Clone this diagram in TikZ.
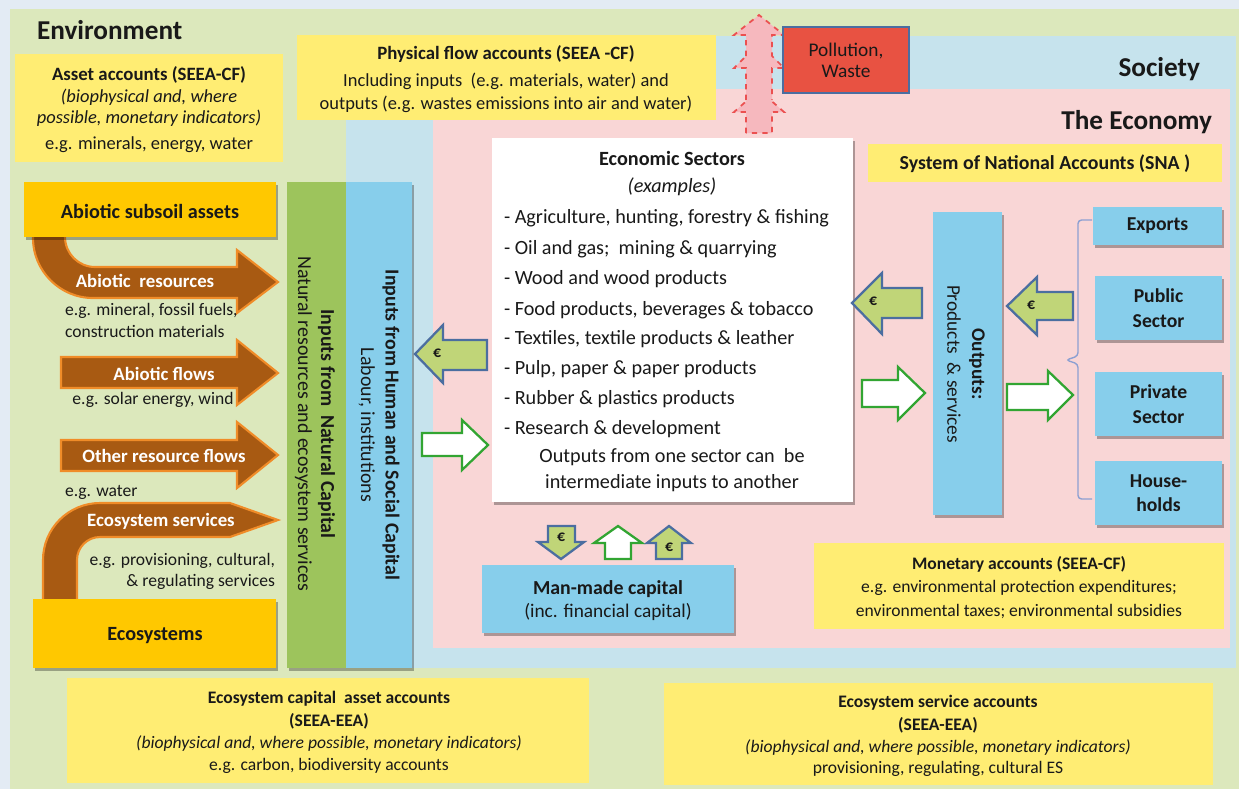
\documentclass[tikz,border=0pt]{standalone}
\usepackage{fontspec}
\setmainfont{Carlito}
\usetikzlibrary{fit,shadows}
\definecolor{bgout}{RGB}{227,235,244}
\definecolor{envgreen}{RGB}{220,232,188}
\definecolor{socblue}{RGB}{198,227,237}
\definecolor{ecopink}{RGB}{249,214,214}
\definecolor{ylw}{RGB}{255,237,115}
\definecolor{orng}{RGB}{255,200,0}
\definecolor{brn}{RGB}{168,90,18}
\definecolor{brnedge}{RGB}{240,140,40}
\definecolor{grbar}{RGB}{157,196,92}
\definecolor{skyb}{RGB}{135,206,235}
\definecolor{pollred}{RGB}{232,82,66}
\definecolor{edgeblue}{RGB}{75,110,160}
\definecolor{eurogr}{RGB}{192,213,120}
\definecolor{wgreen}{RGB}{50,165,50}
\definecolor{dashred}{RGB}{235,80,80}
\definecolor{pinkarr}{RGB}{246,184,190}
\definecolor{txt}{RGB}{25,25,25}
\definecolor{bracec}{RGB}{140,160,210}
\begin{document}
\begin{tikzpicture}[x=0.02cm,y=-0.02cm,
  every node/.style={text=txt, inner sep=0pt, outer sep=0pt},
  shad/.style={drop shadow={shadow xshift=1.2pt, shadow yshift=-1.5pt, fill=black, opacity=0.3}},
  ybox/.style={fill=ylw},
  obox/.style={fill=orng, shad},
  bbox/.style={fill=skyb, shad},
  ttl/.style={font=\fontsize{15.5}{18}\selectfont\bfseries},
  hd/.style={font=\fontsize{10.7}{13}\selectfont\bfseries},
  nm/.style={font=\fontsize{10.5}{13}\selectfont},
  itl/.style={font=\fontsize{10.5}{13}\selectfont\itshape},
  sm/.style={font=\fontsize{10}{12}\selectfont},
  smhd/.style={font=\fontsize{10}{12}\selectfont\bfseries},
  smit/.style={font=\fontsize{10}{12}\selectfont\itshape},
  sec/.style={font=\fontsize{11.5}{14}\selectfont},
  secb/.style={font=\fontsize{11.5}{14}\selectfont\bfseries},
  seci/.style={font=\fontsize{11.5}{14}\selectfont\itshape},
  lab/.style={font=\fontsize{10.7}{13}\selectfont\bfseries, text=white},
  desc/.style={font=\fontsize{10}{12}\selectfont},
  euro/.style={font=\fontsize{9}{10}\selectfont\bfseries},
  brownarr/.style={fill=brn, draw=brnedge, line width=1.2pt, line join=miter},
  euroarr/.style={fill=eurogr, draw=edgeblue, line width=1.3pt, line join=miter},
  whitearr/.style={fill=white, draw=wgreen, line width=1.3pt, line join=miter},
  pinkdash/.style={fill=pinkarr, draw=dashred, dashed, line width=1pt, line join=miter}
]
\useasboundingbox (0,0) rectangle (1239,789);
% regions
\node[fill=bgout, fit={(0,0) (1239,789)}] (bg) {};
\node[fill=envgreen, fit={(10,9) (1239,789)}] (env) {};
\node[fill=socblue, fit={(346,36) (1236,668)}] (soc) {};
\node[fill=ecopink, fit={(433,89) (1230,648)}] (eco) {};
% titles
\node[ttl, anchor=mid west] (envt) at (37,35) {Environment};
\node[ttl, anchor=mid east] (soct) at (1200,72) {Society};
\node[ttl, anchor=mid east] (ecot) at (1212,125) {The Economy};
% yellow boxes
\node[ybox, fit={(15,54) (283,162)}] (assetbox) {};
\node[ybox, fit={(297,35) (716,120)}] (physbox) {};
\node[ybox, fit={(868,144) (1222,182)}] (snabox) {};
\node[ybox, fit={(814,543) (1224,629)}] (monbox) {};
\node[ybox, fit={(67,678) (589,783)}] (ecapbox) {};
\node[ybox, fit={(664,683) (1213,785)}] (esvcbox) {};
% pollution arrows (stacked, dashed)
\path[pinkdash] (746,133) -- (746,112) -- (734,112) -- (759,90) -- (784,112) -- (772,112) -- (772,133) -- cycle;
\path[pinkdash] (746,100) -- (746,68) -- (734,68) -- (759,43) -- (784,68) -- (772,68) -- (772,100);
\path[pinkdash] (746,56) -- (746,35) -- (734,35) -- (759,15) -- (784,35) -- (772,35) -- (772,56);
\node[fill=pollred, draw=edgeblue, line width=1.2pt, fit={(783,27) (909,93)}] (poll) {};
% brown arrows
\path[brownarr] (33,232) -- (33,238) .. controls (33,271) and (60,298) .. (93,298) -- (237,298) -- (237,313) -- (278,282) -- (237,250) -- (237,267) -- (95,267) .. controls (78.5,267) and (65,253.5) .. (65,237) -- (65,232) -- cycle;
\path[brownarr] (61,357) -- (237,357) -- (237,340) -- (278,373) -- (237,405) -- (237,388) -- (61,388) -- cycle;
\path[brownarr] (61,440) -- (237,440) -- (237,422) -- (278,455) -- (237,488) -- (237,471) -- (61,471) -- cycle;
\path[brownarr] (43,605) -- (43,560) .. controls (43,528.5) and (68.5,503) .. (100,503) -- (230,503) -- (278,520) -- (230,537) -- (100,537) .. controls (87.3,537) and (77,547.3) .. (77,560) -- (77,605) -- cycle;
% orange boxes
\node[obox, fit={(24,182) (276,237)}] (subsoil) {};
\node[obox, fit={(33,599) (276,668)}] (ecosys) {};
% vertical bars
\node[fill=grbar, shad, fit={(287,182) (346,668)}] (natbar) {};
\node[bbox, fit={(346,182) (412,668)}] (humbar) {};
% centre box
\node[fill=white, shad, fit={(492,138) (853,502)}] (econ) {};
\node[bbox, fit={(482,565) (734,633)}] (mmc) {};
% outputs and users
\node[bbox, fit={(933,212) (1002,515)}] (outbar) {};
\node[bbox, fit={(1093,207) (1222,245)}] (exports) {};
\node[bbox, fit={(1095,276) (1222,340)}] (public) {};
\node[bbox, fit={(1095,372) (1222,436)}] (private) {};
\node[bbox, fit={(1095,461) (1222,525)}] (house) {};
% brace
\draw[bracec, line width=0.8pt, rounded corners=2pt] (1092,220) -- (1078,220) -- (1078,356) -- (1066,360) -- (1078,364) -- (1078,499) -- (1092,499);
% euro arrows (left pointing)
\path[euroarr] (415,354) -- (443,325) -- (443,340) -- (487,340) -- (487,370) -- (443,370) -- (443,383) -- cycle;
\node[euro] (e1) at (437,353) {€};
\path[euroarr] (852,303) -- (882,273) -- (882,288) -- (922,288) -- (922,318) -- (882,318) -- (882,334) -- cycle;
\node[euro] (e2) at (873,301) {€};
\path[euroarr] (1007,306) -- (1037,277) -- (1037,292) -- (1073,292) -- (1073,320) -- (1037,320) -- (1037,335) -- cycle;
\node[euro] (e3) at (1031,305) {€};
% white arrows (right pointing)
\path[whitearr] (422,433) -- (462,433) -- (462,420) -- (488,445) -- (462,470) -- (462,456) -- (422,456) -- cycle;
\path[whitearr] (862,380) -- (898,380) -- (898,367) -- (925,393) -- (898,420) -- (898,407) -- (862,407) -- cycle;
\path[whitearr] (1007,384) -- (1048,384) -- (1048,371) -- (1073,395) -- (1048,420) -- (1048,410) -- (1007,410) -- cycle;
% small arrows below the centre box
\path[euroarr] (548,526) -- (575,526) -- (575,542) -- (584,542) -- (561,559) -- (538,542) -- (548,542) -- cycle;
\node[euro] (e4) at (561,537) {€};
\path[whitearr] (605,559) -- (605,543) -- (594,543) -- (618,526) -- (642,543) -- (631,543) -- (631,559) -- cycle;
\path[euroarr] (656,559) -- (656,543) -- (647,543) -- (669,526) -- (691,543) -- (682,543) -- (682,559) -- cycle;
\node[euro] (e5) at (669,547) {€};
% texts: asset accounts
\node[hd] (asset1) at (149,75) {Asset accounts (SEEA-CF)};
\node[itl] (asset2) at (149,97) {(biophysical and, where};
\node[itl] (asset3) at (149,118) {possible, monetary indicators)};
\node[nm] (asset4) at (149,145) {e.g. minerals, energy, water};
% physical flow
\node[hd] (phys1) at (506,54) {Physical flow accounts (SEEA -CF)};
\node[nm] (phys2) at (506,81) {Including inputs~ (e.g. materials, water) and};
\node[nm] (phys3) at (506,104) {outputs (e.g. wastes emissions into air and water)};
% pollution
\node[font=\fontsize{11}{13}\selectfont, align=center] (pollt) at (poll) {Pollution,\\[-1pt]Waste};
% SNA
\node[font=\fontsize{11.3}{13}\selectfont\bfseries] (snat) at (1045,164) {System of National Accounts (SNA )};
% left column
\node[font=\fontsize{11.5}{14}\selectfont\bfseries] (subsoilt) at (150,211) {Abiotic subsoil assets};
\node[font=\fontsize{11.5}{14}\selectfont\bfseries] (ecosyst) at (155,636) {Ecosystems};
\node[lab] (lab1) at (145,281) {Abiotic~ resources};
\node[desc, anchor=mid west] (d1a) at (65,311) {e.g. mineral, fossil fuels,};
\node[desc, anchor=mid west] (d1b) at (65,333) {construction materials};
\node[lab] (lab2) at (164,374) {Abiotic flows};
\node[desc] (d2) at (153,400) {e.g. solar energy, wind};
\node[desc, anchor=mid west] (d3) at (65,492) {e.g. water};
\node[lab] (lab3) at (164,456) {Other resource flows};
\node[lab] (lab4) at (161,521) {Ecosystem services};
\node[desc, anchor=mid east] (d4a) at (275,561) {e.g. provisioning, cultural,};
\node[desc, anchor=mid east] (d4b) at (275,582) {\& regulating services};
% bar texts
\node[rotate=-90, align=center, font=\fontsize{11.3}{13}\selectfont] (natt) at (315,424) {\textbf{Inputs from~ Natural Capital}\\Natural resources and ecosystem services};
\node[rotate=-90, align=center, font=\fontsize{11.3}{14}\selectfont] (humt) at (379,425) {\textbf{Inputs from Human and Social Capital}\\Labour, institutions};
% economic sectors
\node[secb] (es0) at (672,158) {Economic Sectors};
\node[seci] (es1) at (672,187) {(examples)};
\node[sec, anchor=mid west] (es2) at (504,219) {- Agriculture, hunting, forestry \& fishing};
\node[sec, anchor=mid west] (es3) at (504,250) {- Oil and gas;~ mining \& quarrying};
\node[sec, anchor=mid west] (es4) at (504,280) {- Wood and wood products};
\node[sec, anchor=mid west] (es5) at (504,311) {- Food products, beverages \& tobacco};
\node[sec, anchor=mid west] (es6) at (504,340) {- Textiles, textile products \& leather};
\node[sec, anchor=mid west] (es7) at (504,370) {- Pulp, paper \& paper products};
\node[sec, anchor=mid west] (es8) at (504,400) {- Rubber \& plastics products};
\node[sec, anchor=mid west] (es9) at (504,430) {- Research \& development};
\node[sec] (es10) at (672,457) {Outputs from one sector can~ be};
\node[sec] (es11) at (672,483) {intermediate inputs to another};
% man-made capital
\node[font=\fontsize{11.3}{13}\selectfont\bfseries] (mmc1) at (608,589) {Man-made capital};
\node[font=\fontsize{11}{13}\selectfont] (mmc2) at (608,612) {(inc. financial capital)};
% outputs
\node[rotate=-90, align=center, font=\fontsize{11}{14}\selectfont] (outt) at (966,364) {\textbf{Outputs:}\\Products~ \& services};
\node[font=\fontsize{11.2}{13}\selectfont\bfseries] (expt) at (exports) {Exports};
\node[font=\fontsize{11.2}{13}\selectfont\bfseries, align=center] (pubt) at (public) {Public\\[1pt]Sector};
\node[font=\fontsize{11.2}{13}\selectfont\bfseries, align=center] (privt) at (private) {Private\\[1pt]Sector};
\node[font=\fontsize{11.2}{13}\selectfont\bfseries, align=center] (houset) at (house) {House-\\[1pt]holds};
% monetary
\node[smhd] (mon1) at (1019,564) {Monetary accounts (SEEA-CF)};
\node[sm] (mon2) at (1019,588) {e.g. environmental protection expenditures;};
\node[sm] (mon3) at (1019,612) {environmental taxes; environmental subsidies};
% bottom boxes
\node[smhd] (ec1) at (329,699) {Ecosystem capital~ asset accounts};
\node[smhd] (ec2) at (329,721) {(SEEA-EEA)};
\node[smit] (ec3) at (329,743) {(biophysical and, where possible, monetary indicators)};
\node[sm] (ec4) at (329,766) {e.g. carbon, biodiversity accounts};
\node[smhd] (es1b) at (938,703) {Ecosystem service accounts};
\node[smhd] (es2b) at (938,725) {(SEEA-EEA)};
\node[smit] (es3b) at (938,747) {(biophysical and, where possible, monetary indicators)};
\node[sm] (es4b) at (938,769) {provisioning, regulating, cultural ES};
\end{tikzpicture}
\end{document}
